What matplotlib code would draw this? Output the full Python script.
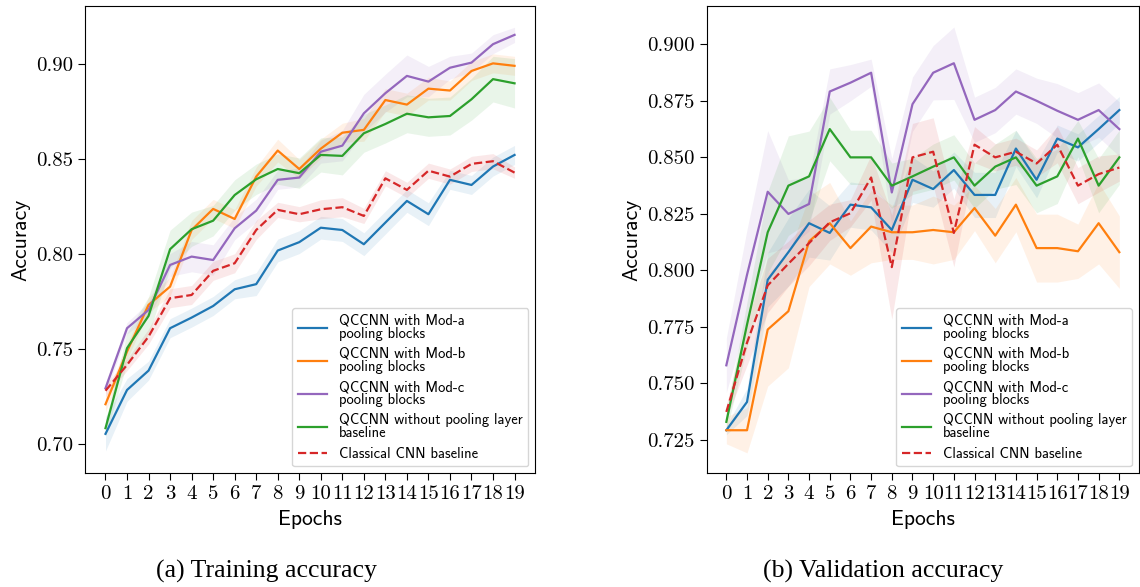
import matplotlib
matplotlib.use('Agg')
import matplotlib.pyplot as plt
from matplotlib.ticker import MultipleLocator
import numpy as np

plt.rcParams['font.family'] = 'cmss10'
plt.rcParams['axes.formatter.use_mathtext'] = False

epochs = np.arange(20)

labels = ['QCCNN with Mod-a\npooling blocks',
          'QCCNN with Mod-b\npooling blocks',
          'QCCNN with Mod-c\npooling blocks',
          'QCCNN without pooling layer\nbaseline',
          'Classical CNN baseline']
colors = ['#1f77b4', '#ff7f0e', '#9467bd', '#2ca02c', '#d62728']
styles = ['-', '-', '-', '-', '--']

# training accuracy (mean)
train_a = [0.7053, 0.7284, 0.7386, 0.7609, 0.7665, 0.7726, 0.7814, 0.7841, 0.8018, 0.8062,
           0.8138, 0.8126, 0.8051, 0.8165, 0.8279, 0.8209, 0.8390, 0.8363, 0.8460, 0.8521]
train_b = [0.7209, 0.7486, 0.7732, 0.7828, 0.8126, 0.8237, 0.8184, 0.8407, 0.8544, 0.8447,
           0.8554, 0.8638, 0.8653, 0.8810, 0.8786, 0.8870, 0.8860, 0.8963, 0.9003, 0.8990]
train_c = [0.7293, 0.7609, 0.7705, 0.7942, 0.7986, 0.7968, 0.8135, 0.8228, 0.8390, 0.8402,
           0.8538, 0.8570, 0.8740, 0.8846, 0.8937, 0.8907, 0.8980, 0.9007, 0.9104, 0.9153]
train_nopool = [0.7083, 0.7504, 0.7674, 0.8025, 0.8130, 0.8175, 0.8310, 0.8393, 0.8447, 0.8425,
                0.8521, 0.8516, 0.8635, 0.8684, 0.8738, 0.8719, 0.8726, 0.8814, 0.8920, 0.8898]
train_cnn = [0.7280, 0.7416, 0.7565, 0.7767, 0.7784, 0.7911, 0.7951, 0.8126, 0.8232, 0.8209,
             0.8235, 0.8246, 0.8200, 0.8398, 0.8337, 0.8438, 0.8407, 0.8474, 0.8488, 0.8428]

# training accuracy (std)
train_a_std = [0.009, 0.006, 0.005, 0.005, 0.005, 0.005, 0.005, 0.006, 0.006, 0.006,
               0.006, 0.006, 0.006, 0.006, 0.006, 0.006, 0.005, 0.005, 0.005, 0.005]
train_b_std = [0.004, 0.004, 0.004, 0.005, 0.005, 0.005, 0.005, 0.005, 0.006, 0.005,
               0.005, 0.005, 0.006, 0.006, 0.006, 0.006, 0.005, 0.005, 0.005, 0.005]
train_c_std = [0.003, 0.003, 0.004, 0.006, 0.008, 0.008, 0.006, 0.006, 0.005, 0.005,
               0.006, 0.008, 0.010, 0.010, 0.011, 0.008, 0.006, 0.005, 0.005, 0.004]
train_nopool_std = [0.004, 0.008, 0.010, 0.010, 0.009, 0.008, 0.008, 0.008, 0.008, 0.008,
                    0.009, 0.010, 0.010, 0.010, 0.010, 0.010, 0.010, 0.011, 0.012, 0.013]
train_cnn_std = [0.003, 0.003, 0.004, 0.005, 0.005, 0.005, 0.005, 0.005, 0.004, 0.004,
                 0.005, 0.005, 0.004, 0.004, 0.004, 0.004, 0.004, 0.004, 0.004, 0.003]

# validation accuracy (mean)
val_a = [0.7293, 0.7418, 0.7958, 0.8080, 0.8208, 0.8165, 0.8290, 0.8278, 0.8178, 0.8400,
         0.8359, 0.8443, 0.8333, 0.8333, 0.8538, 0.8400, 0.8582, 0.8543, 0.8624, 0.8708]
val_b = [0.7293, 0.7293, 0.7738, 0.7819, 0.8128, 0.8208, 0.8098, 0.8193, 0.8168, 0.8168,
         0.8178, 0.8168, 0.8275, 0.8153, 0.8290, 0.8098, 0.8098, 0.8084, 0.8208, 0.8080]
val_c = [0.7580, 0.7980, 0.8347, 0.8249, 0.8293, 0.8790, 0.8829, 0.8873, 0.8344, 0.8734,
         0.8873, 0.8915, 0.8665, 0.8708, 0.8790, 0.8749, 0.8705, 0.8665, 0.8708, 0.8624]
val_nopool = [0.7330, 0.7760, 0.8168, 0.8374, 0.8415, 0.8624, 0.8499, 0.8499, 0.8374, 0.8415,
              0.8458, 0.8499, 0.8374, 0.8458, 0.8499, 0.8374, 0.8415, 0.8582, 0.8374, 0.8499]
val_cnn = [0.7374, 0.7680, 0.7933, 0.8029, 0.8120, 0.8212, 0.8252, 0.8410, 0.8014, 0.8499,
           0.8524, 0.8165, 0.8555, 0.8499, 0.8524, 0.8472, 0.8555, 0.8374, 0.8425, 0.8454]

# validation accuracy (std)
val_a_std = [0.002, 0.006, 0.012, 0.015, 0.015, 0.012, 0.010, 0.010, 0.010, 0.010,
             0.008, 0.008, 0.010, 0.010, 0.008, 0.008, 0.006, 0.006, 0.006, 0.006]
val_b_std = [0.006, 0.010, 0.025, 0.025, 0.020, 0.018, 0.012, 0.016, 0.012, 0.012,
             0.015, 0.012, 0.010, 0.012, 0.012, 0.015, 0.015, 0.012, 0.018, 0.016]
val_c_std = [0.012, 0.020, 0.027, 0.015, 0.012, 0.010, 0.008, 0.006, 0.015, 0.012,
             0.012, 0.016, 0.010, 0.010, 0.010, 0.010, 0.012, 0.012, 0.012, 0.012]
val_nopool_std = [0.004, 0.010, 0.018, 0.022, 0.020, 0.014, 0.012, 0.012, 0.010, 0.008,
                  0.010, 0.010, 0.010, 0.010, 0.012, 0.012, 0.012, 0.008, 0.012, 0.012]
val_cnn_std = [0.003, 0.010, 0.012, 0.010, 0.010, 0.008, 0.006, 0.010, 0.023, 0.015,
               0.015, 0.015, 0.008, 0.006, 0.006, 0.006, 0.008, 0.008, 0.008, 0.006]

train = [train_a, train_b, train_c, train_nopool, train_cnn]
train_std = [train_a_std, train_b_std, train_c_std, train_nopool_std, train_cnn_std]
val = [val_a, val_b, val_c, val_nopool, val_cnn]
val_std = [val_a_std, val_b_std, val_c_std, val_nopool_std, val_cnn_std]

fig = plt.figure(figsize=(11.4, 5.87), dpi=100)
ax1 = fig.add_axes([0.0746, 0.1942, 0.3947, 0.7956])
ax2 = fig.add_axes([0.6199, 0.1942, 0.3792, 0.7956])


def draw(ax, means, stds, ylim, step):
    for m, s, c, ls, lab in zip(means, stds, colors, styles, labels):
        m = np.array(m)
        s = np.array(s)
        ax.fill_between(epochs, m - s, m + s, color=c, alpha=0.1, lw=0)
        ax.plot(epochs, m, color=c, ls=ls, lw=1.6, label=lab)
    ax.set_xticks(epochs)
    ax.yaxis.set_major_locator(MultipleLocator(step))
    ax.set_ylim(ylim)
    ax.set_xlabel('Epochs', fontsize=15.5, labelpad=5)
    ax.set_ylabel('Accuracy', fontsize=15.5)
    ax.tick_params(labelsize=15, length=5, labelfontfamily='cmr10')
    leg = ax.legend(loc='lower right', fontsize=10.5, handlelength=2.0,
                    labelspacing=0.42, borderaxespad=0.45)
    for t in leg.get_texts():
        t.set_linespacing(0.92)


draw(ax1, train, train_std, (0.6847, 0.9305), 0.05)
draw(ax2, val, val_std, (0.7104, 0.9168), 0.025)

fig.text(0.2338, 0.027, '(a) Training accuracy', family='Liberation Serif',
         fontsize=18.5, ha='center', va='center')
fig.text(0.7746, 0.027, '(b) Validation accuracy', family='Liberation Serif',
         fontsize=18.5, ha='center', va='center')

plt.savefig('out.png', dpi=100)
